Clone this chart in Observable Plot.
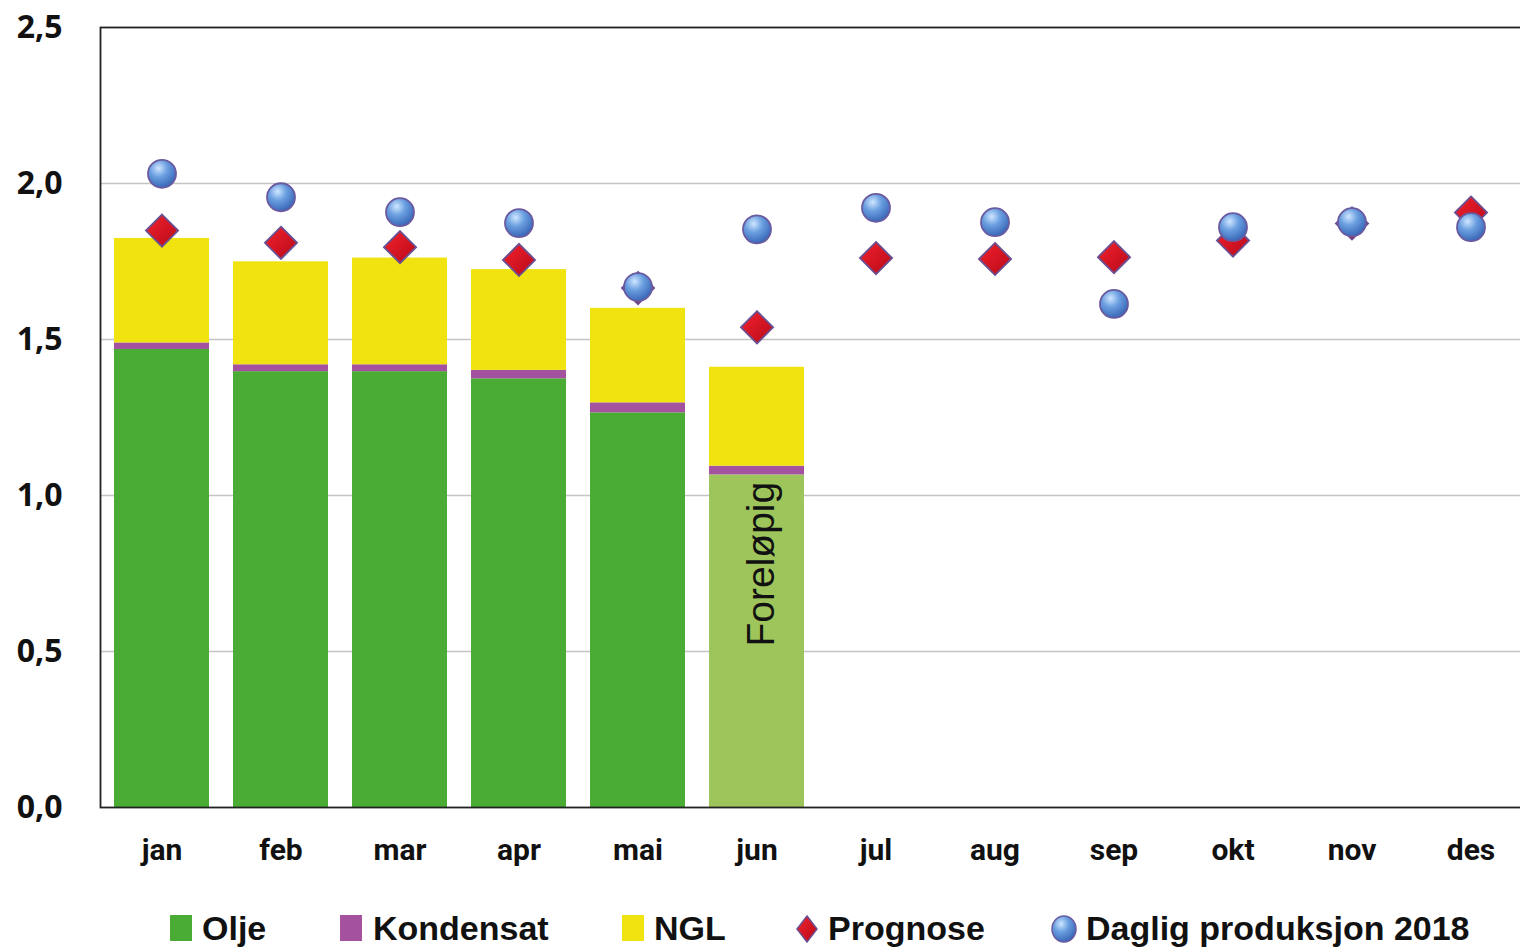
<!DOCTYPE html>
<html><head><meta charset="utf-8">
<script src="https://cdn.jsdelivr.net/npm/d3@7"></script>
<script src="https://cdn.jsdelivr.net/npm/@observablehq/plot@0.6"></script>
<style>
html,body{margin:0;padding:0;background:#fff;overflow:hidden;width:1520px;height:948px}
#chart{position:absolute;left:0;top:0;width:1533px}
#chart svg{max-width:none !important}
#legend{position:absolute;left:0;top:905px;width:1520px;height:46px;font-family:"Liberation Sans",Arial,sans-serif;font-weight:bold;font-size:34px;color:#111}
#legend .sw{position:absolute;top:10px}
#legend .tx{position:absolute;top:0;line-height:46px;white-space:nowrap}
</style>
</head><body>
<div id="chart"></div>
<div id="legend"></div>
<script>
const months = ["jan","feb","mar","apr","mai","jun","jul","aug","sep","okt","nov","des"];
const barMonths = ["jan","feb","mar","apr","mai","jun"];
const olje      = [1.468, 1.397, 1.397, 1.374, 1.265, 1.066];
const kondensat = [0.021, 0.022, 0.022, 0.027, 0.032, 0.028];
const ngl       = [0.335, 0.330, 0.342, 0.323, 0.303, 0.317];
const prognose  = [1.849, 1.810, 1.796, 1.755, 1.665, 1.539, 1.761, 1.758, 1.764, 1.817, 1.872, 1.907];
const daglig    = [2.031, 1.956, 1.908, 1.873, 1.668, 1.853, 1.922, 1.876, 1.614, 1.860, 1.876, 1.860];
const seriesNames = ["Olje","Kondensat","NGL"];
const seriesColors = {Olje:"#4aac35", Kondensat:"#a452a0", NGL:"#f1e30f"};
const prelimColor = "#9ec55b";
const prelimMonth = "jun";
const prelimLabel = "Foreløpig";
const yTicks = [0, 0.5, 1, 1.5, 2, 2.5];
const legendLabels = ["Olje","Kondensat","NGL","Prognose","Daglig produksjon 2018"];

const bars = [];
[olje, kondensat, ngl].forEach((vals, i) => {
  vals.forEach((v, j) => bars.push({month: barMonths[j], serie: seriesNames[i], value: v}));
});
const points = months.map((m, i) => ({month: m, prognose: prognose[i], daglig: daglig[i]}));

const defs = () => {
  const d = d3.create("svg:defs");
  const b = d.append("radialGradient").attr("id","gBlue").attr("cx","38%").attr("cy","30%").attr("r","70%");
  b.append("stop").attr("offset","0%").attr("stop-color","#cfe6ff");
  b.append("stop").attr("offset","45%").attr("stop-color","#6a9fe0");
  b.append("stop").attr("offset","100%").attr("stop-color","#3a68b8");
  const r = d.append("linearGradient").attr("id","gRed").attr("x1","0").attr("y1","0").attr("x2","1").attr("y2","1");
  r.append("stop").attr("offset","0%").attr("stop-color","#f2222c");
  r.append("stop").attr("offset","100%").attr("stop-color","#b8091a");
  return d.node();
};

const fmt = d => d.toFixed(1).replace(".", ",");

const chart = Plot.plot({
  width: 1533, height: 877,
  marginLeft: 100, marginRight: 0, marginTop: 27, marginBottom: 70,
  x: {domain: months, paddingInner: 0.2, paddingOuter: 0.1},
  y: {domain: [0, 2.5]},
  color: {type: "identity"},
  style: {fontFamily: "DejaVu Sans, sans-serif", background: "#fff", color: "#111", maxWidth: "none"},
  marks: [
    defs,
    Plot.gridY([0.5, 1, 1.5, 2], {stroke: "#c4c4c4", strokeOpacity: 1, strokeWidth: 1.5}),
    Plot.barY(bars, Plot.stackY({
      x: "month", y: "value",
      fill: d => (d.serie === "Olje" && d.month === prelimMonth) ? prelimColor : seriesColors[d.serie]
    })),
    Plot.text([prelimLabel], {
      x: () => prelimMonth, y: () => 0.78, text: d => d, rotate: -90,
      fontSize: 39, fontFamily: "Liberation Sans, sans-serif", fill: "#111", dx: 5
    }),
    Plot.dot(points, {x: "month", y: "prognose", symbol: "diamond2", r: 14.5, fill: "url(#gRed)", stroke: "#6a4f91", strokeWidth: 1.8}),
    Plot.dot(points, {x: "month", y: "daglig", r: 14, fill: "url(#gBlue)", stroke: "#6a5aa0", strokeWidth: 1.8}),
    Plot.frame({stroke: "#222", strokeWidth: 1.8}),
    Plot.axisY({ticks: yTicks, tickFormat: fmt, tickSize: 0, tickPadding: 38, fontSize: 32, fontWeight: "bold", fontFamily: "Open Sans, sans-serif", label: null}),
    Plot.axisX({tickSize: 0, tickPadding: 31, fontSize: 30, fontWeight: "bold", fontFamily: "Roboto, sans-serif", label: null})
  ]
});
chart.style.maxWidth = "none";
document.getElementById("chart").appendChild(chart);

// legend
const leg = document.getElementById("legend");
const swatchLeft = [170, 340, 622, 795, 1050];
const textLeft = [202, 373, 654, 828, 1086];
legendLabels.forEach((lab, i) => {
  let sw;
  if (i < 3) {
    sw = `<svg class="sw" style="left:${swatchLeft[i]}px" width="22" height="26"><rect width="22" height="26" fill="${seriesColors[seriesNames[i]]}"/></svg>`;
  } else if (i === 3) {
    sw = `<svg class="sw" style="left:${swatchLeft[i]}px" width="24" height="28"><defs><linearGradient id="lr" x1="0" y1="0" x2="1" y2="1"><stop offset="0" stop-color="#f2222c"/><stop offset="1" stop-color="#b8091a"/></linearGradient></defs><path d="M12,1 L22,14 L12,27 L2,14Z" fill="url(#lr)" stroke="#6a4f91" stroke-width="1.5"/></svg>`;
  } else {
    sw = `<svg class="sw" style="left:${swatchLeft[i]}px;top:9px" width="30" height="30"><defs><radialGradient id="lb" cx="38%" cy="30%" r="70%"><stop offset="0" stop-color="#cfe6ff"/><stop offset="0.45" stop-color="#6a9fe0"/><stop offset="1" stop-color="#3a68b8"/></radialGradient></defs><ellipse cx="14" cy="15" rx="12" ry="13" fill="url(#lb)" stroke="#6a5aa0" stroke-width="1.5"/></svg>`;
  }
  leg.insertAdjacentHTML("beforeend", sw + `<span class="tx" style="left:${textLeft[i]}px">${lab}</span>`);
});
</script>
</body></html>
